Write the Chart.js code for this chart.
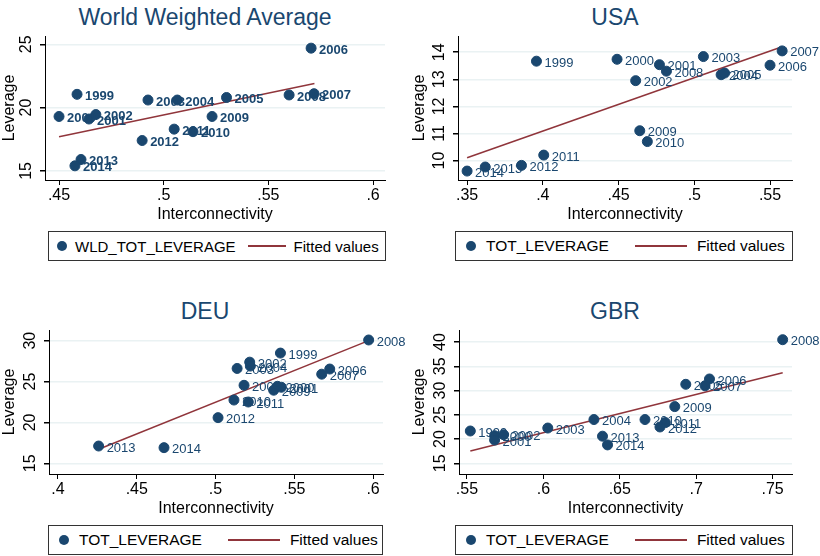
<!DOCTYPE html>
<html><head><meta charset="utf-8">
<script src="https://cdn.jsdelivr.net/npm/chart.js@4"></script>
<style>
body{margin:0;background:#fff;width:820px;height:556px;position:relative;font-family:"Liberation Sans",Arial,sans-serif;overflow:hidden}
.t{position:absolute;font-size:23px;color:#1a476f;text-align:center;width:410px}
.c{position:absolute}
.lg{position:absolute;border:1px solid #333;height:30px;font-size:15.5px;color:#000;display:flex;align-items:center;box-sizing:border-box;white-space:nowrap;overflow:hidden}
.dot{display:inline-block;width:10px;height:10px;border-radius:50%;background:#1a476f;margin:0 10px 0 10px;flex:none}
.ln{display:inline-block;width:52px;height:1.5px;background:#90353b;margin:0 10px 0 26px;flex:none}
.lg.n{font-size:15px}
.lg.n .dot{margin:0 8px 0 8px}
.lg.n .ln{margin:0 8px 0 12px;width:38px}
</style></head><body>
<script>
const years=[1999,2000,2001,2002,2003,2004,2005,2006,2007,2008,2009,2010,2011,2012,2013,2014];
// World weighted average
const wldX=[.4586,.450,.4643,.4676,.4925,.5065,.530,.5704,.5718,.5599,.5231,.514,.505,.4897,.4605,.4576];
const wldY=[21.05,19.3,19.1,19.45,20.6,20.6,20.8,24.7,21.1,21.0,19.3,18.1,18.3,17.4,15.9,15.4];
const wldFitX=[.450,.572], wldFitY=[17.7,21.9];
// USA
const usaX=[.3958,.449,.477,.4613,.506,.5177,.520,.550,.558,.4816,.464,.469,.4006,.3859,.362,.350];
const usaY=[13.67,13.74,13.54,12.95,13.84,13.17,13.23,13.52,14.05,13.3,11.1,10.7,10.2,9.82,9.76,9.61];
const usaFitX=[.350,.558], usaFitY=[10.1,14.2];
// DEU
const deuX=[.5412,.5393,.5418,.5217,.5137,.5221,.5181,.5725,.5674,.5972,.5369,.5117,.5208,.5016,.4258,.4673];
const deuY=[28.48,24.42,24.3,27.37,26.6,26.89,24.54,26.53,25.9,30.08,23.94,22.74,22.5,20.59,17.12,16.92];
const deuFitX=[.4258,.5972], deuFitY=[16.72,30.0];
// GBR
const gbrX=[.5522,.5681,.5681,.574,.6029,.6331,.6932,.7087,.7058,.7566,.686,.6665,.6798,.6763,.6387,.642];
const gbrY=[21.67,20.7,19.8,20.9,22.28,24.03,31.3,32.4,31.0,40.5,26.7,24.03,23.4,22.5,20.6,18.8];
const gbrFitX=[.5522,.7566], gbrFitY=[17.56,33.7];
// ticks
const wldXT=[.45,.5,.55,.6], wldXL=['.45','.5','.55','.6'], wldYT=[15,20,25];
const usaXT=[.35,.4,.45,.5,.55], usaXL=['.35','.4','.45','.5','.55'], usaYT=[10,11,12,13,14];
const deuXT=[.4,.45,.5,.55,.6], deuXL=['.4','.45','.5','.55','.6'], deuYT=[15,20,25,30];
const gbrXT=[.55,.6,.65,.7,.75], gbrXL=['.55','.6','.65','.7','.75'], gbrYT=[15,20,25,30,35,40];

const panels=[
 {title:'World Weighted Average',L:0,T:0,xs:wldX,ys:wldY,fx:wldFitX,fy:wldFitY,xt:wldXT,xl:wldXL,yt:wldYT,xr:[.4433,.6057],yr:[14.28,25.66],pl:45,pr:25,leg:'WLD_TOT_LEVERAGE',lgL:48,lgW:338,bold:true},
 {title:'USA',L:410,T:0,xs:usaX,ys:usaY,fx:usaFitX,fy:usaFitY,xt:usaXT,xl:usaXL,yt:usaYT,xr:[.344,.5645],yr:[9.28,14.6],pl:48,pr:28,leg:'TOT_LEVERAGE',lgL:455,lgW:338},
 {title:'DEU',L:0,T:294,xs:deuX,ys:deuY,fx:deuFitX,fy:deuFitY,xt:deuXT,xl:deuXL,yt:deuYT,xr:[.3943,.6063],yr:[13.7,31.3],pl:49,pr:27,leg:'TOT_LEVERAGE',lgL:48,lgW:335},
 {title:'GBR',L:410,T:294,xs:gbrX,ys:gbrY,fx:gbrFitX,fy:gbrFitY,xt:gbrXT,xl:gbrXL,yt:gbrYT,xr:[.5448,.7627],yr:[12.8,42.5],pl:49,pr:28,leg:'TOT_LEVERAGE',lgL:455,lgW:338}
];

const labelPlugin={id:'lab',afterDatasetsDraw(ch){
  const p=ch.options.plugins.lab, ctx=ch.ctx, m=ch.getDatasetMeta(0);
  ctx.save();ctx.fillStyle='#1a476f';
  ctx.font=(p.bold?'bold ':'')+'13px "Liberation Sans",Arial';ctx.textBaseline='middle';
  m.data.forEach((e,i)=>{ctx.fillText(String(years[i]),e.x+8,e.y+2);});
  const ys=ch.scales.y;ctx.fillStyle='#000';ctx.font='16px "Liberation Sans",Arial';ctx.textAlign='center';
  p.yt.forEach(v=>{const y=ys.getPixelForValue(v);ctx.save();ctx.translate(ys.right-18,y);ctx.rotate(-Math.PI/2);ctx.fillText(String(v),0,0);ctx.restore();});
  ctx.restore();
}};

panels.forEach((P,k)=>{
  const t=document.createElement('div');t.className='t';t.style.left=P.L+'px';t.style.top=(P.T+4)+'px';t.textContent=P.title;document.body.appendChild(t);
  const d=document.createElement('div');d.className='c';d.style.left=P.L+'px';d.style.top=(P.T+30)+'px';d.style.width='410px';d.style.height='194px';
  const cv=document.createElement('canvas');d.appendChild(cv);document.body.appendChild(d);
  const lg=document.createElement('div');lg.className='lg'+(k===0?' n':'');lg.style.left=P.lgL+'px';lg.style.top=(P.T+231)+'px';lg.style.width=P.lgW+'px';
  lg.innerHTML='<span class="dot"></span>'+P.leg+'<span class="ln"></span>Fitted values';document.body.appendChild(lg);
  new Chart(cv,{
    data:{datasets:[
      {type:'scatter',data:P.xs.map((x,i)=>({x,y:P.ys[i]})),backgroundColor:'#1a476f',borderColor:'#1a476f',pointRadius:5,pointHoverRadius:5},
      {type:'line',data:P.fx.map((x,i)=>({x,y:P.fy[i]})),borderColor:'#90353b',borderWidth:1.5,pointRadius:0,fill:false}
    ]},
    options:{responsive:true,maintainAspectRatio:false,animation:false,
      layout:{padding:{top:5,right:P.pr,left:0,bottom:0}},
      plugins:{legend:{display:false},tooltip:{enabled:false},lab:{bold:P.bold,yt:P.yt}},
      scales:{
        x:{type:'linear',min:P.xr[0],max:P.xr[1],
          afterBuildTicks:s=>{s.ticks=P.xt.map(v=>({value:v}));},
          afterFit:s=>{s.height=44;},
          ticks:{color:'#000',font:{size:16,family:'"Liberation Sans",Arial'},padding:1,callback:(v)=>{const i=P.xt.indexOf(v);return i>=0?P.xl[i]:'';},maxRotation:0},
          grid:{drawOnChartArea:false,drawTicks:true,tickLength:5,tickColor:'#000'},
          border:{color:'#000',width:1},
          title:{display:true,text:'Interconnectivity',color:'#000',font:{size:16,family:'"Liberation Sans",Arial'},padding:{top:1,bottom:0}}},
        y:{type:'linear',min:P.yr[0],max:P.yr[1],
          afterBuildTicks:s=>{s.ticks=P.yt.map(v=>({value:v}));},
          afterFit:s=>{s.width=P.pl;},
          ticks:{display:false},
          grid:{color:'#eaf2f3',lineWidth:1.5,drawTicks:true,tickLength:5,tickColor:'#000'},
          border:{color:'#000',width:1},
          title:{display:true,text:'Leverage',color:'#000',font:{size:16,family:'"Liberation Sans",Arial'},padding:{top:0,bottom:0}}}
      }},
    plugins:[labelPlugin]
  });
});
</script>
</body></html>
